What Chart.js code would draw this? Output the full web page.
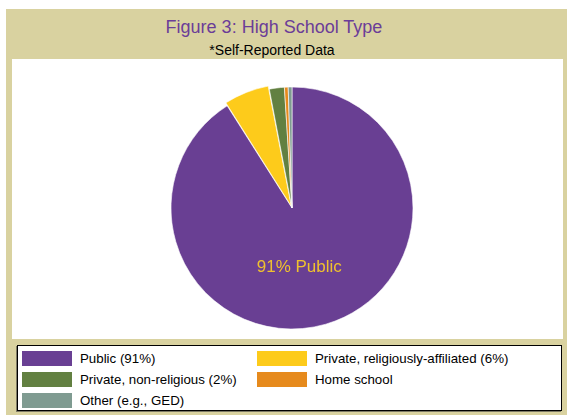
<!DOCTYPE html>
<html>
<head>
<meta charset="utf-8">
<script src="https://cdn.jsdelivr.net/npm/chart.js@4"></script>
<style>
  body { margin: 0; background: #ffffff; font-family: "Liberation Sans", Arial, sans-serif; }
  #frame { position: absolute; left: 6px; top: 9px; width: 561px; height: 406px; background: #d9d2a0; }
  .title { position: absolute; left: 0; width: 536px; text-align: center; white-space: nowrap; }
  #t1 { top: 8px; font-size: 18px; color: #6b3d98; }
  #t2 { top: 33px; font-size: 14px; color: #000000; width: 532px; }
  #plot { position: absolute; left: 6px; top: 50px; width: 551px; height: 280px; background: #ffffff; }
  #legend { position: absolute; left: 11px; top: 336px; width: 543px; height: 62px; background: #ffffff;
            border: 1px solid #000000; box-shadow: -1px 1px 0 #7d7a66;
            display: grid; grid-template-columns: 235px 1fr; grid-auto-rows: 21px; padding-top: 2px; }
  .item { display: flex; align-items: center; font-size: 13.3px; color: #000000; white-space: nowrap; }
  .box { width: 50px; height: 15px; margin-left: 4px; margin-right: 8px; flex: none; }
</style>
</head>
<body>
<div id="frame">
  <div class="title" id="t1">Figure 3: High School Type</div>
  <div class="title" id="t2">*Self-Reported Data</div>
  <div id="plot"><canvas id="pieChart" width="551" height="280"></canvas></div>
  <div id="legend"></div>
</div>
<script>
document.addEventListener("DOMContentLoaded", function () {
    const categories = ['Public (91%)', 'Private, religiously-affiliated (6%)', 'Private, non-religious (2%)', 'Home school', 'Other (e.g., GED)'];
    const shares = [91, 6, 2, 0.5, 0.5];
    const colors = ['#693f93', '#fdcb1b', '#628041', '#e68a1d', '#7f9b91'];
    const sliceOffsets = [0, 8, 0, 0, 0];
    const insideLabel = '91% Public';

    // legend in two columns, built from the same arrays
    const legendDiv = document.getElementById('legend');
    categories.forEach((name, i) => {
        const item = document.createElement('div');
        item.className = 'item';
        const box = document.createElement('span');
        box.className = 'box';
        box.style.background = colors[i];
        item.appendChild(box);
        item.appendChild(document.createTextNode(name));
        legendDiv.appendChild(item);
    });

    const sliceLabel = {
        id: 'sliceLabel',
        afterDatasetsDraw(chart) {
            const arc = chart.getDatasetMeta(0).data[0];
            const ctx = chart.ctx;
            ctx.save();
            ctx.font = '17px "Liberation Sans", Arial, sans-serif';
            ctx.fillStyle = '#efc12e';
            ctx.textAlign = 'center';
            ctx.textBaseline = 'middle';
            ctx.fillText(insideLabel, arc.x + arc.outerRadius * 0.06, arc.y + arc.outerRadius * 0.49);
            ctx.restore();
        }
    };

    const ctx = document.getElementById('pieChart').getContext('2d');
    new Chart(ctx, {
        type: 'pie',
        data: {
            labels: categories,
            datasets: [{
                data: shares,
                backgroundColor: colors,
                borderColor: '#ffffff',
                borderWidth: 0.6,
                offset: sliceOffsets,
                clip: false
            }]
        },
        options: {
            responsive: false,
            animation: false,
            radius: 121,
            layout: { padding: { left: 9, top: 18 } },
            plugins: {
                legend: { display: false },
                tooltip: { enabled: false },
                title: { display: false }
            }
        },
        plugins: [sliceLabel]
    });
});
</script>
</body>
</html>
